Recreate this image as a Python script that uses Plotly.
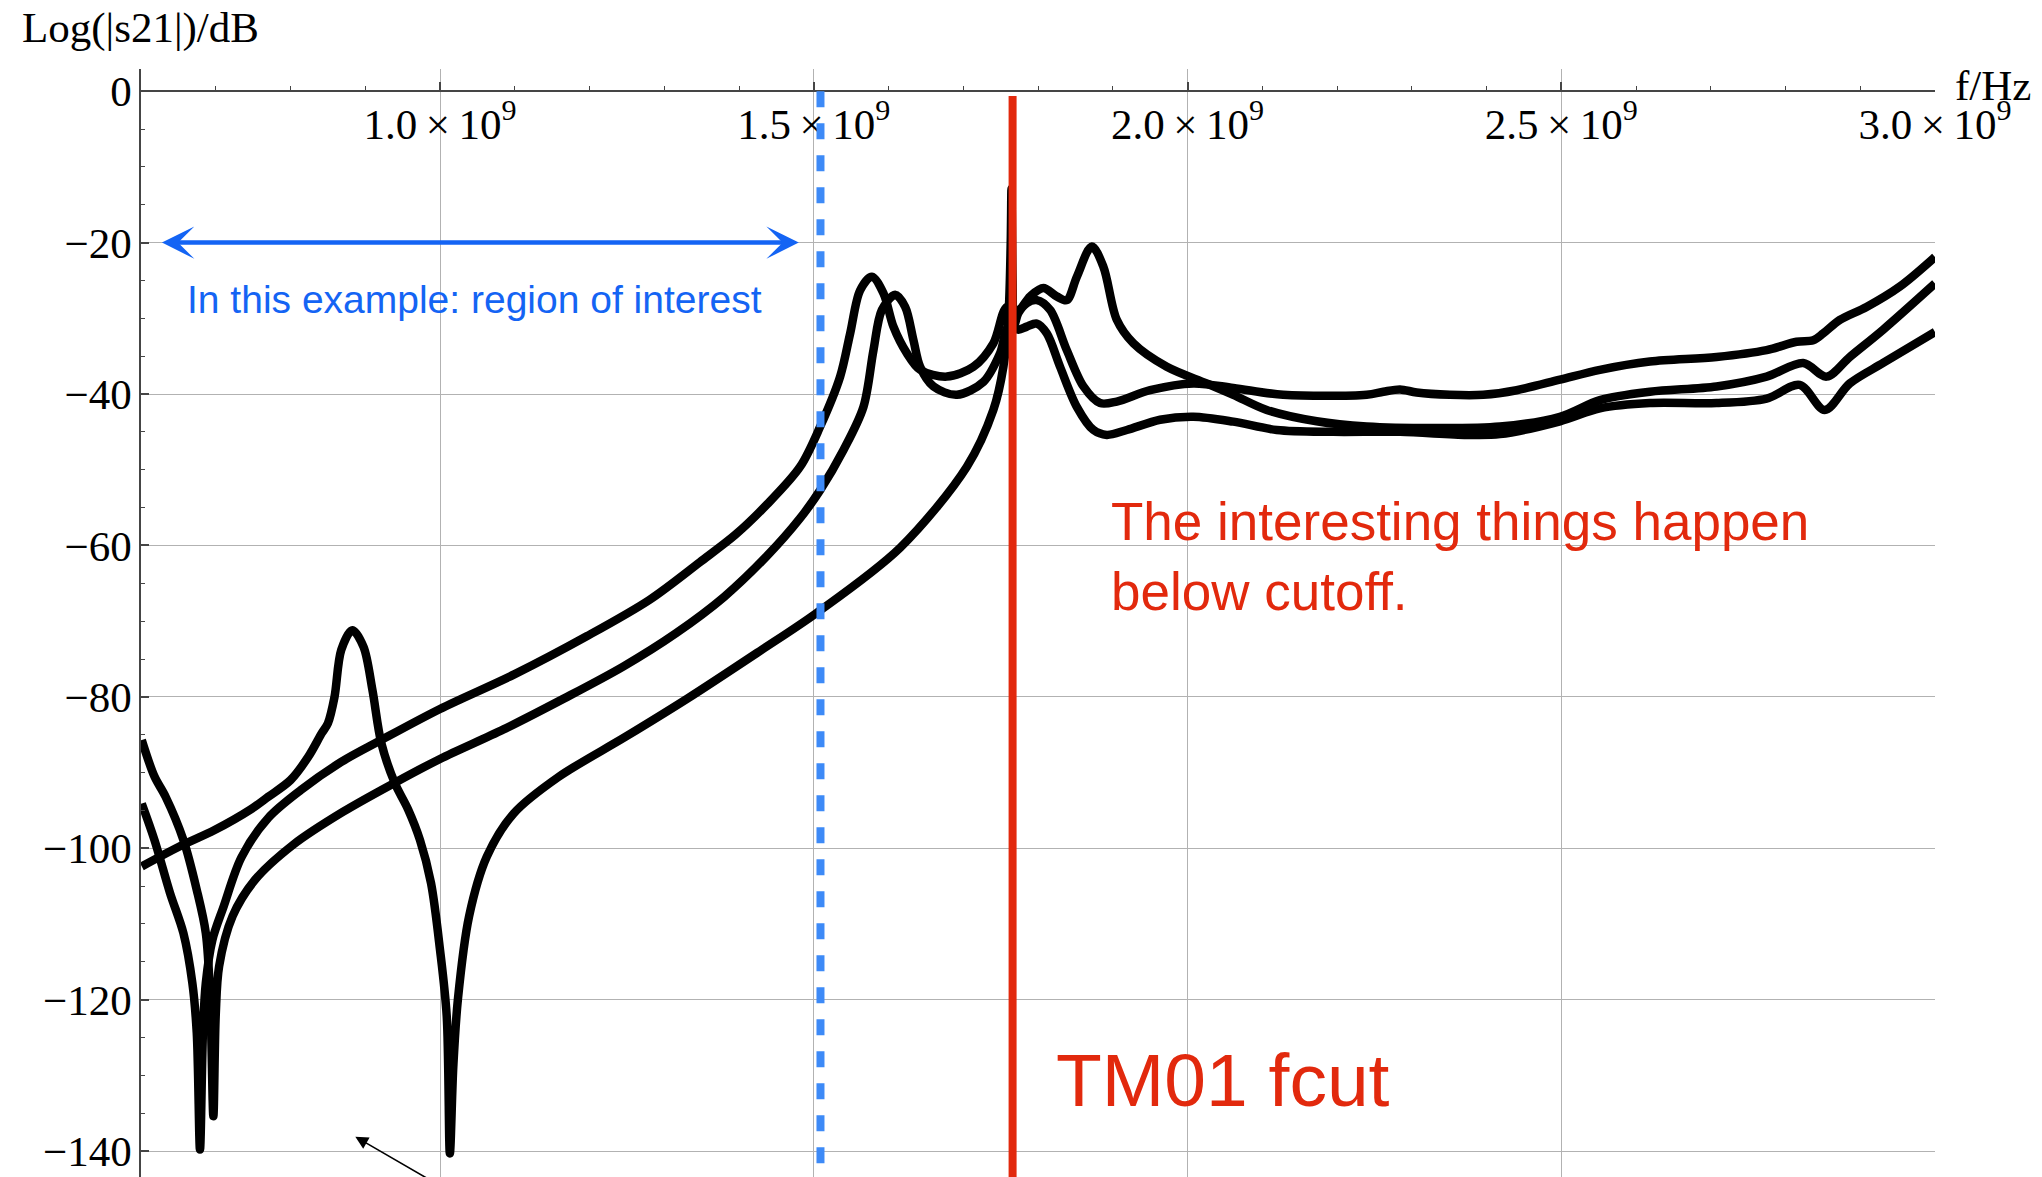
import plotly.graph_objects as go

# Transmission |S21| of three configurations, frequency in GHz, level in dB
f_a = [0.601, 0.618, 0.6388, 0.6567, 0.6687, 0.6746, 0.6789, 0.6830, 0.6867, 0.6955,
       0.7105, 0.7343, 0.7702, 0.8141, 0.8679, 0.9195, 1.0, 1.1, 1.1962, 1.2800,
       1.3478, 1.3950, 1.4373, 1.4818, 1.5086, 1.5353, 1.5487, 1.562, 1.5777, 1.5933,
       1.6066, 1.6245, 1.6423, 1.678, 1.7136, 1.7403, 1.7583, 1.7738, 1.7894, 1.8072,
       1.825, 1.8385, 1.852, 1.872, 1.8875, 1.9054, 1.9276, 1.9723, 2.0257, 2.0613,
       2.106, 2.1728, 2.2397, 2.3288, 2.418, 2.4983, 2.5517, 2.6186, 2.7078, 2.7747,
       2.8237, 2.8549, 2.886, 2.9306, 3.0]
s21_a = [-94.1, -98.9, -105.9, -111.2, -117.8, -124.4, -139.8, -124.0, -117.8, -112.1,
         -107.7, -101.2, -96.0, -92.3, -88.6, -85.8, -81.6, -77.0, -72.0, -67.2,
         -62.2, -58.6, -54.6, -49.6, -44.3, -37.7, -32.0, -26.3, -24.5, -26.7,
         -31.1, -34.6, -36.8, -37.7, -36.4, -33.3, -28.5, -28.9, -27.1, -26.0,
         -27.1, -27.6, -24.5, -20.5, -23.2, -30.2, -33.3, -36.4, -38.6, -40.1,
         -42.1, -43.6, -44.3, -44.5, -44.3, -43.0, -40.8, -39.7, -39.0, -37.7,
         -35.9, -37.7, -35.1, -31.5, -25.4]

f_b = [0.601, 0.6179, 0.6329, 0.6567, 0.6746, 0.6867, 0.6926, 0.6968, 0.7000, 0.7045,
       0.7224, 0.7523, 0.8040, 0.8700, 0.9385, 1.0, 1.0850, 1.1662, 1.2450, 1.3156,
       1.3800, 1.4373, 1.4818, 1.5086, 1.5398, 1.5665, 1.5799, 1.5911, 1.6089, 1.6223,
       1.6334, 1.6423, 1.6601, 1.6914, 1.727, 1.7493, 1.7604, 1.7738, 1.785, 1.7984,
       1.8118, 1.8295, 1.8519, 1.8741, 1.892, 1.9188, 1.9633, 2.0078, 2.0613, 2.1194,
       2.195, 2.2843, 2.3735, 2.418, 2.4983, 2.5517, 2.6186, 2.7078, 2.7747, 2.819,
       2.8525, 2.886, 2.9306, 3.0]
s21_b = [-85.7, -90.5, -93.2, -98.9, -105.5, -111.2, -120.0, -135.4, -122.0, -115.6,
         -109.0, -104.2, -99.5, -95.2, -91.4, -88.2, -84.3, -80.2, -76.0, -71.6,
         -66.8, -61.4, -56.4, -52.7, -47.4, -41.7, -34.2, -28.9, -26.9, -28.5,
         -32.9, -36.4, -39.0, -40.1, -38.4, -34.6, -31.1, -31.5, -31.1, -30.7,
         -32.0, -36.4, -41.7, -44.75, -45.4, -44.75, -43.4, -43.0, -43.65, -44.75,
         -45.0, -45.0, -45.4, -45.3, -43.6, -41.9, -41.2, -41.2, -40.6, -38.8,
         -42.1, -38.6, -35.9, -31.8]

f_c = [0.601, 0.6508, 0.6985, 0.7463, 0.7702, 0.8, 0.8239, 0.8418, 0.85, 0.8589,
       0.8679, 0.8827, 0.8977, 0.9096, 0.9215, 0.9396, 0.9575, 0.9732, 0.988, 1.0,
       1.009, 1.0132, 1.0178, 1.0239, 1.0389, 1.0627, 1.0986, 1.1582, 1.2478, 1.3314,
       1.4286, 1.504, 1.6156, 1.7048, 1.7403, 1.7537, 1.7604, 1.7635, 1.7645, 1.7660,
       1.768, 1.7738, 1.785, 1.7984, 1.8162, 1.8385, 1.8608, 1.883, 1.9054, 1.95,
       2.0078, 2.0613, 2.128, 2.2397, 2.262, 2.2843, 2.3066, 2.351, 2.3957, 2.4403,
       2.4983, 2.5517, 2.6186, 2.7078, 2.7747, 2.8148, 2.837, 2.8504, 2.8727, 2.9084,
       2.953, 3.0]
s21_c = [-102.4, -99.8, -97.6, -94.9, -93.2, -91.0, -87.9, -84.8, -83.5, -80.0,
         -73.8, -71.2, -73.4, -79.1, -86.1, -91.4, -94.9, -98.9, -104.6, -113.4,
         -122.2, -140.3, -128.8, -120.0, -109.0, -101.1, -95.4, -90.6, -85.3, -80.2,
         -73.9, -68.9, -60.3, -49.6, -42.1, -36.4, -29.8, -20.0, -12.9, -25.0,
         -31.0, -29.3, -28.0, -27.6, -28.9, -34.2, -39.0, -41.2, -41.0, -39.5,
         -38.6, -39.2, -40.1, -40.1, -39.7, -39.4, -39.8, -40.1, -40.1, -39.5,
         -38.1, -36.8, -35.7, -35.1, -34.2, -33.1, -32.9, -32.0, -30.2, -28.5,
         -25.8, -21.9]

curves = [(f_a, s21_a), (f_b, s21_b), (f_c, s21_c)]

# Markers on the frequency axis (GHz)
F_CUT_TM01 = 1.766
F_ROI_EDGE = 1.509
ROI_ARROW_START = 0.626
ROI_ARROW_END = 1.480
ROI_ARROW_LEVEL = -20

# Axis ticks
x_tick_ghz = [1.0, 1.5, 2.0, 2.5, 3.0]
x_tick_text = ["1.0\u2009\u00d7\u200910<sup>9</sup>", "1.5\u2009\u00d7\u200910<sup>9</sup>",
               "2.0\u2009\u00d7\u200910<sup>9</sup>", "2.5\u2009\u00d7\u200910<sup>9</sup>",
               "3.0\u2009\u00d7\u200910<sup>9</sup>"]
x_minor_ghz = [0.7, 0.8, 0.9, 1.1, 1.2, 1.3, 1.4, 1.6, 1.7, 1.8, 1.9,
               2.1, 2.2, 2.3, 2.4, 2.6, 2.7, 2.8, 2.9]
y_ticks = [0, -20, -40, -60, -80, -100, -120, -140]
y_tick_text = ["0", "\u221220", "\u221240", "\u221260", "\u221280",
               "\u2212100", "\u2212120", "\u2212140"]
y_minor = [v for v in range(-5, -145, -5) if v % 20 != 0]

GHZ = 1e9
X_RANGE = [0.6 * GHZ, 3.0 * GHZ]
Y_RANGE = [-143.42, 2.93]
x_axis_pos = (0 - Y_RANGE[0]) / (Y_RANGE[1] - Y_RANGE[0])

SERIF = "Liberation Serif, Times New Roman, serif"
SANS = "Liberation Sans, Arial, sans-serif"
BLUE = "#1464f4"
BLUE_DASH = "#3d8af7"
RED = "#e2290d"
AXIS = "#454545"
GRID = "#b2b2b2"

fig = go.Figure()
for f, s in curves:
    fig.add_trace(go.Scatter(
        x=[v * GHZ for v in f], y=s, mode="lines",
        line=dict(color="black", width=8.5, shape="spline", smoothing=0.9),
        hoverinfo="skip", showlegend=False))

# Region-of-interest edge and TM01 cutoff
fig.add_shape(type="line", xref="x", yref="y", layer="above",
              x0=F_ROI_EDGE * GHZ, x1=F_ROI_EDGE * GHZ, y0=0, y1=Y_RANGE[0],
              line=dict(color=BLUE_DASH, width=8, dash="16px,16px"))
fig.add_shape(type="line", xref="x", yref="y", layer="above",
              x0=F_CUT_TM01 * GHZ, x1=F_CUT_TM01 * GHZ, y0=-0.63, y1=Y_RANGE[0],
              line=dict(color=RED, width=8))

annotations = [
    # double-headed arrow spanning the region of interest
    dict(x=ROI_ARROW_END * GHZ, y=ROI_ARROW_LEVEL, ax=ROI_ARROW_START * GHZ, ay=ROI_ARROW_LEVEL,
         xref="x", yref="y", axref="x", ayref="y", text="", showarrow=True,
         arrowhead=3, startarrowhead=3, arrowside="end+start", arrowwidth=4.5,
         arrowsize=1.2, startarrowsize=1.2, arrowcolor=BLUE),
    dict(x=0.6583 * GHZ, y=-27.5, xref="x", yref="y", xanchor="left", yanchor="middle",
         text="In this example: region of interest", showarrow=False,
         font=dict(family=SANS, size=39, color=BLUE)),
    dict(x=1.895 * GHZ, y=-56.85, xref="x", yref="y", xanchor="left", yanchor="middle",
         text="The interesting things happen", showarrow=False,
         font=dict(family=SANS, size=53, color=RED)),
    dict(x=1.895 * GHZ, y=-66.1, xref="x", yref="y", xanchor="left", yanchor="middle",
         text="below cutoff.", showarrow=False,
         font=dict(family=SANS, size=53, color=RED)),
    dict(x=1.8214 * GHZ, y=-130.6, xref="x", yref="y", xanchor="left", yanchor="middle",
         text="TM01 fcut", showarrow=False,
         font=dict(family=SANS, size=75, color=RED)),
    # small pointer near the bottom
    dict(x=0.8867 * GHZ, y=-138.1, ax=1.0004 * GHZ, ay=-144.6,
         xref="x", yref="y", axref="x", ayref="y", text="", showarrow=True,
         arrowhead=2, arrowwidth=1.6, arrowsize=1.6, arrowcolor="black"),
    # axis labels
    dict(x=-0.0674, y=1.037, xref="paper", yref="paper", xanchor="left", yanchor="middle",
         text="Log(|s21|)/dB", showarrow=False, font=dict(family=SERIF, size=43, color="black")),
    dict(x=1.0100, y=0.9851, xref="paper", yref="paper", xanchor="left", yanchor="middle",
         text="f/Hz", showarrow=False, font=dict(family=SERIF, size=43, color="black")),
]

fig.update_layout(
    template="none",
    width=2042, height=1177,
    margin=dict(l=141, r=107, t=69, b=0, pad=0),
    paper_bgcolor="white", plot_bgcolor="white",
    showlegend=False,
    annotations=annotations,
    xaxis=dict(
        range=X_RANGE, autorange=False, automargin=False,
        anchor="free", position=x_axis_pos, side="bottom",
        tickmode="array", tickvals=[v * GHZ for v in x_tick_ghz], ticktext=x_tick_text,
        ticks="inside", ticklen=8, tickwidth=1.5, tickcolor=AXIS,
        tickfont=dict(family=SERIF, size=43, color="black"),
        ticklabelstandoff=-5,
        showline=True, linecolor=AXIS, linewidth=1.5,
        showgrid=True, gridcolor=GRID, gridwidth=1.3, zeroline=False,
        minor=dict(tickvals=[v * GHZ for v in x_minor_ghz], ticks="inside", ticklen=4,
                   tickwidth=1.3, tickcolor=AXIS, showgrid=False),
    ),
    yaxis=dict(
        range=Y_RANGE, autorange=False, automargin=False,
        tickmode="array", tickvals=y_ticks, ticktext=y_tick_text,
        ticks="inside", ticklen=8, tickwidth=1.5, tickcolor=AXIS,
        tickfont=dict(family=SERIF, size=43, color="black"),
        ticklabelstandoff=-1,
        showline=True, linecolor=AXIS, linewidth=1.5,
        showgrid=True, gridcolor=GRID, gridwidth=1.3, zeroline=False,
        minor=dict(tickvals=y_minor, ticks="inside", ticklen=4,
                   tickwidth=1.3, tickcolor=AXIS, showgrid=False),
    ),
)

fig.write_html("out.html")
